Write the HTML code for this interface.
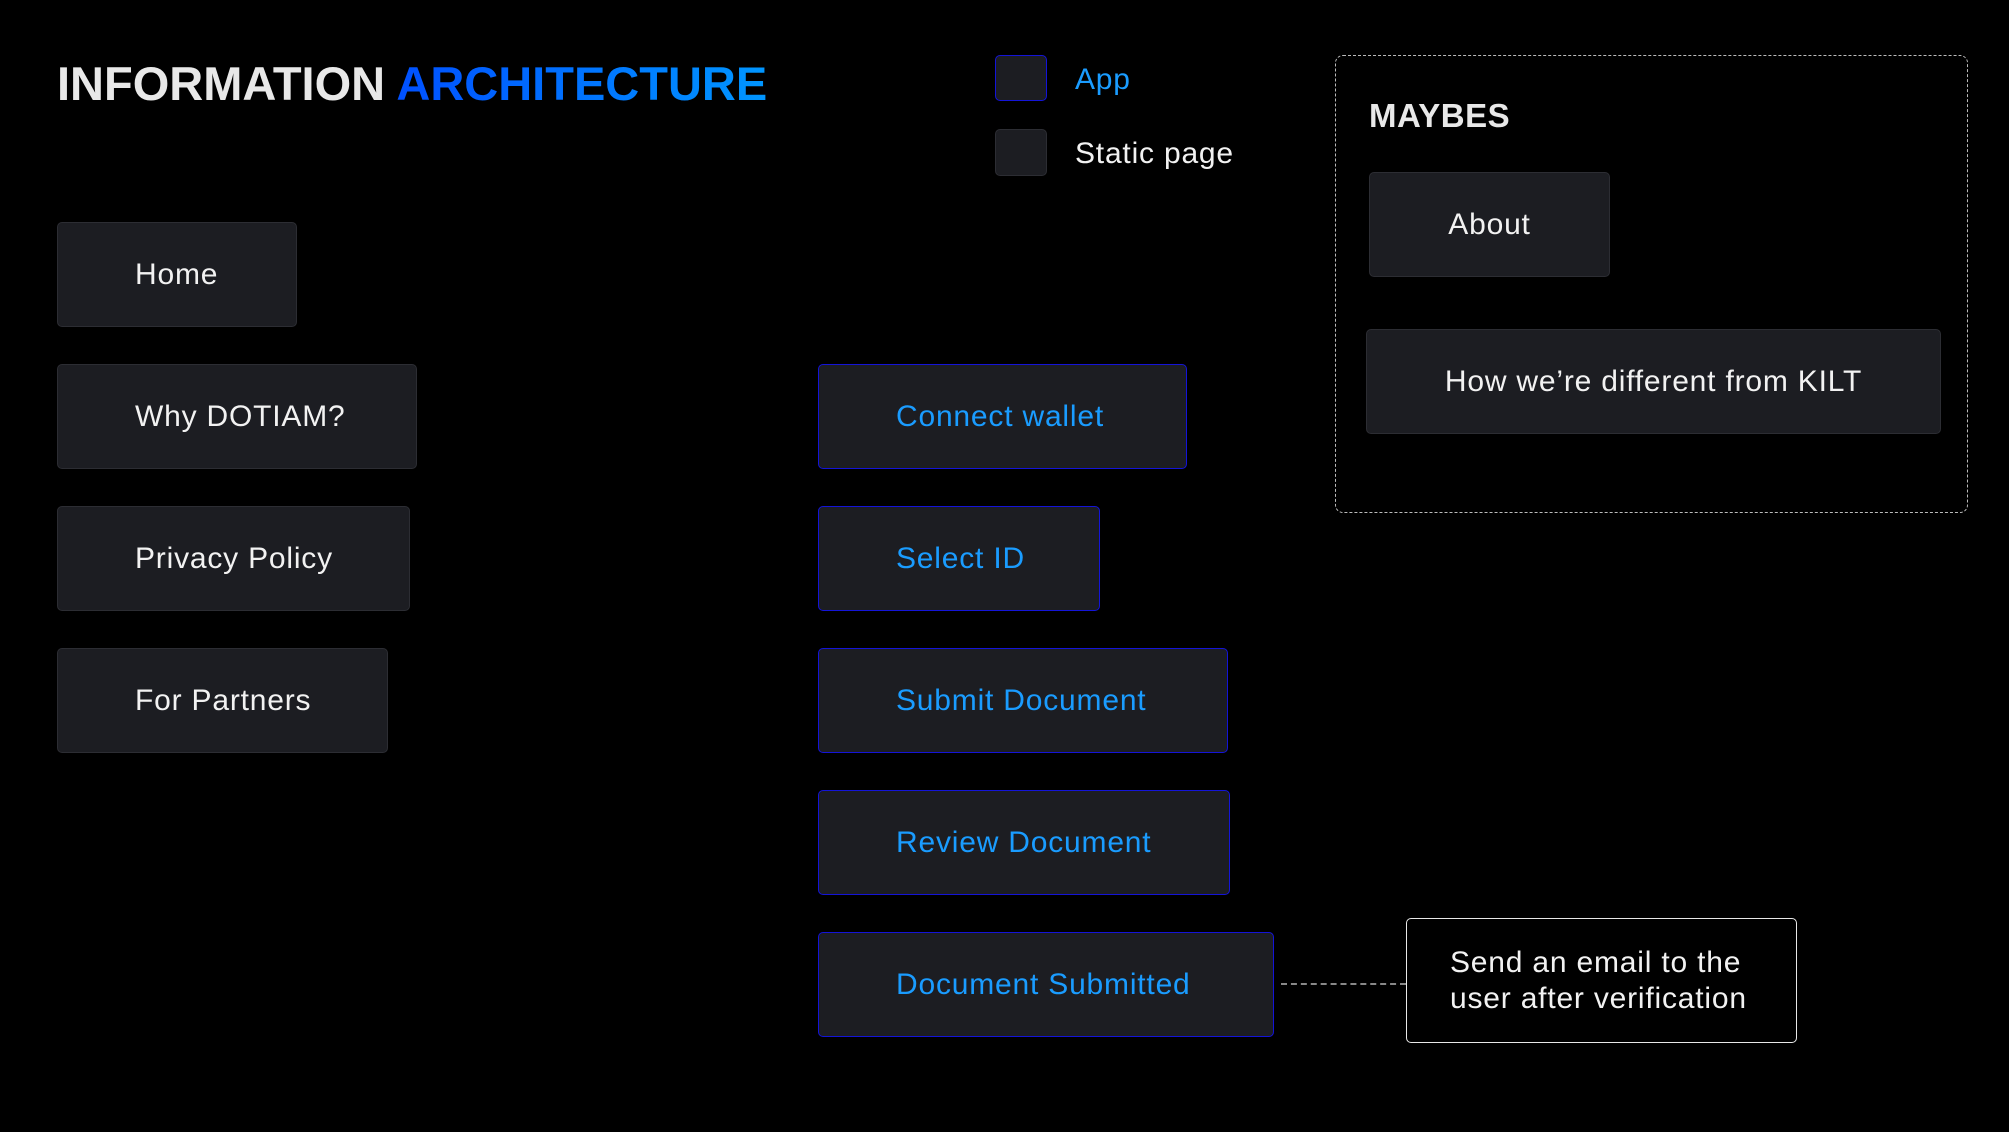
<!DOCTYPE html>
<html><head><meta charset="utf-8"><style>
body{margin:0;width:2009px;height:1132px;background:#000;overflow:hidden;font-family:"Liberation Sans",sans-serif;position:relative}
.n{position:absolute;box-sizing:border-box;background:#1c1d22;border:1.5px solid #2c2d33;border-radius:5px;color:#f2f2f2;font-size:30px;letter-spacing:0.8px;display:flex;align-items:center;padding-left:77px}
.a{border-color:#1414d8;color:#1a9cff}
.c{justify-content:center;padding-left:0}
.t{position:absolute;white-space:nowrap;letter-spacing:0.8px}
</style></head><body>
<div class="t" style="left:57px;top:56px;font-size:47px;font-weight:bold;color:#e8e8e8;letter-spacing:0px">INFORMATION <span style="background:linear-gradient(90deg,#0050ff,#0096ff);-webkit-background-clip:text;background-clip:text;color:transparent">ARCHITECTURE</span></div>

<div class="n a" style="left:995px;top:55px;width:52px;height:46px;padding:0"></div>
<div class="t" style="left:1075px;top:63px;font-size:30px;color:#1a9cff">App</div>
<div class="n" style="left:995px;top:129px;width:52px;height:47px;padding:0"></div>
<div class="t" style="left:1075px;top:137px;font-size:30px;color:#f2f2f2">Static page</div>

<div class="n" style="left:57px;top:222px;width:240px;height:105px">Home</div>
<div class="n" style="left:57px;top:364px;width:360px;height:105px">Why DOTIAM?</div>
<div class="n" style="left:57px;top:506px;width:353px;height:105px">Privacy Policy</div>
<div class="n" style="left:57px;top:648px;width:331px;height:105px">For Partners</div>

<div class="n a" style="left:818px;top:364px;width:369px;height:105px">Connect wallet</div>
<div class="n a" style="left:818px;top:506px;width:282px;height:105px">Select ID</div>
<div class="n a" style="left:818px;top:648px;width:410px;height:105px">Submit Document</div>
<div class="n a" style="left:818px;top:790px;width:412px;height:105px">Review Document</div>
<div class="n a" style="left:818px;top:932px;width:456px;height:105px">Document Submitted</div>

<div style="position:absolute;left:1281px;top:983px;width:125px;border-top:2px dashed #888"></div>
<div style="position:absolute;left:1406px;top:918px;width:391px;height:125px;box-sizing:border-box;border:1.5px solid #e8e8e8;border-radius:5px"></div>
<div class="t" style="left:1450px;top:945px;font-size:30px;line-height:36px;color:#f2f2f2">Send an email to the<br>user after verification</div>

<div style="position:absolute;left:1335px;top:55px;width:633px;height:458px;box-sizing:border-box;border:1.5px dashed #bbb;border-radius:8px"></div>
<div class="t" style="left:1369px;top:97px;font-size:33px;font-weight:bold;color:#e8e8e8;letter-spacing:0.5px">MAYBES</div>
<div class="n c" style="left:1369px;top:172px;width:241px;height:105px">About</div>
<div class="n c" style="left:1366px;top:329px;width:575px;height:105px">How we’re different from KILT</div>
</body></html>
